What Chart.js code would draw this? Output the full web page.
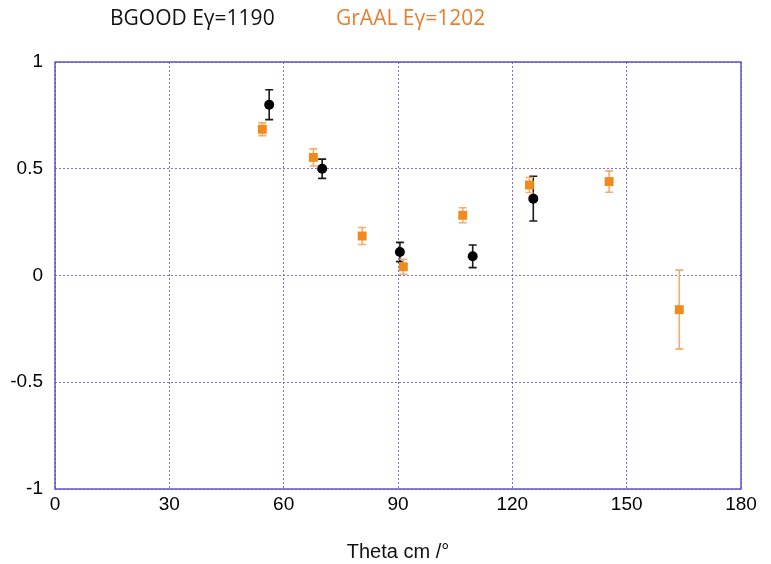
<!DOCTYPE html>
<html>
<head>
<meta charset="utf-8">
<script src="https://cdn.jsdelivr.net/npm/chart.js@4/dist/chart.umd.min.js"></script>
<style>
  body { margin: 0; background: #fff; }
  #wrap { position: relative; width: 771px; height: 564px; }
  .lbl { position: absolute; top: 3px; font-family: "Open Sans", "Noto Sans", sans-serif; font-size: 21px; white-space: nowrap; }
</style>
</head>
<body>
<div id="wrap">
  <div class="lbl" id="lblBgood" style="left:110px;color:#111;"></div>
  <div class="lbl" id="lblGraal" style="left:336px;color:#e87e2e;"></div>
  <canvas id="chart" width="771" height="564"></canvas>
</div>
<script>
// series labels
const bgoodLabel = 'BGOOD Eγ=1190';
const graalLabel = 'GrAAL Eγ=1202';

// BGOOD points (theta cm in degrees, value, error)
const bgoodTheta = [56.2, 70.1, 90.5, 109.6, 125.5];
const bgoodValue = [0.80, 0.50, 0.11, 0.09, 0.36];
const bgoodErr   = [0.07, 0.045, 0.045, 0.053, 0.105];

// GrAAL points
const graalTheta = [54.4, 67.8, 80.6, 91.4, 107.0, 124.5, 145.4, 163.8];
const graalValue = [0.685, 0.553, 0.185, 0.041, 0.282, 0.424, 0.44, -0.16];
const graalErr   = [0.03, 0.04, 0.04, 0.035, 0.035, 0.035, 0.05, 0.185];

// ticks
const xTicks = [0, 30, 60, 90, 120, 150, 180];
const yTicks = [-1, -0.5, 0, 0.5, 1];
const yTickLabels = ['-1', '-0.5', '0', '0.5', '1'];

document.getElementById('lblBgood').textContent = bgoodLabel;
document.getElementById('lblGraal').textContent = graalLabel;

function toPoints(xs, ys, es) {
    let pts = [];
    for (let i = 0; i < xs.length; i++)
        pts.push({ x: xs[i], y: ys[i], err: es[i] });
    return pts;
}

const boxColor = 'rgb(96,84,190)';
const gridColor = 'rgba(105,95,215,0.9)';
const tickFont = { family: '"Liberation Sans", Arial, sans-serif', size: 19 };

// error bars drawn under the markers
const errorBars = {
    id: 'errorBars',
    beforeDatasetsDraw(chart) {
        const ctx = chart.ctx;
        const xs = chart.scales.x, ys = chart.scales.y;
        chart.data.datasets.forEach(ds => {
            ctx.save();
            ctx.strokeStyle = ds.errColor;
            ctx.lineWidth = 1.6;
            ds.data.forEach(p => {
                const px = xs.getPixelForValue(p.x);
                const top = ys.getPixelForValue(p.y + p.err);
                const bot = ys.getPixelForValue(p.y - p.err);
                ctx.beginPath();
                ctx.moveTo(px, top); ctx.lineTo(px, bot);
                ctx.moveTo(px - 4, top); ctx.lineTo(px + 4, top);
                ctx.moveTo(px - 4, bot); ctx.lineTo(px + 4, bot);
                ctx.stroke();
            });
            ctx.restore();
        });
    }
};

// full frame round the plot
const frame = {
    id: 'frame',
    afterDraw(chart) {
        const a = chart.chartArea;
        const ctx = chart.ctx;
        ctx.save();
        ctx.strokeStyle = boxColor;
        ctx.lineWidth = 1.5;
        ctx.strokeRect(a.left, a.top, a.right - a.left, a.bottom - a.top);
        ctx.restore();
    }
};

new Chart(document.getElementById('chart'), {
    type: 'scatter',
    data: {
        datasets: [{
            label: bgoodLabel,
            data: toPoints(bgoodTheta, bgoodValue, bgoodErr),
            pointStyle: 'circle',
            pointRadius: 5,
            backgroundColor: '#000',
            borderColor: '#000',
            borderWidth: 0,
            errColor: '#1a1a1a'
        }, {
            label: graalLabel,
            data: toPoints(graalTheta, graalValue, graalErr),
            pointStyle: 'rect',
            pointRadius: 6.3,
            backgroundColor: '#f08a1a',
            borderColor: '#f08a1a',
            borderWidth: 0,
            errColor: '#f5ac6c'
        }]
    },
    options: {
        responsive: false,
        animation: false,
        events: [],
        layout: { padding: { left: 0, right: 30, top: 62, bottom: 0 } },
        plugins: {
            legend: { display: false },
            tooltip: { enabled: false }
        },
        scales: {
            x: {
                type: 'linear',
                min: 0, max: 180,
                afterFit: s => { s.height = 75; },
                afterBuildTicks: s => { s.ticks = xTicks.map(v => ({ value: v })); },
                grid: { color: gridColor, lineWidth: 1, drawTicks: false },
                border: { display: false, dash: [2, 2] },
                ticks: { color: '#000', font: tickFont, padding: 4, maxRotation: 0,
                         callback: v => String(v) },
                title: { display: true, text: 'Theta cm /°', color: '#111',
                         font: { family: '"Liberation Sans", Arial, sans-serif', size: 20 },
                         padding: { top: 0, bottom: 0 } }
            },
            y: {
                type: 'linear',
                min: -1, max: 1,
                afterFit: s => { s.width = 55; },
                afterBuildTicks: s => { s.ticks = yTicks.map(v => ({ value: v })); },
                grid: { color: gridColor, lineWidth: 1, drawTicks: false },
                border: { display: false, dash: [2, 2] },
                ticks: { color: '#000', font: tickFont, padding: 12,
                         callback: (v) => yTickLabels[yTicks.indexOf(v)] }
            }
        }
    },
    plugins: [errorBars, frame]
});
</script>
</body>
</html>
